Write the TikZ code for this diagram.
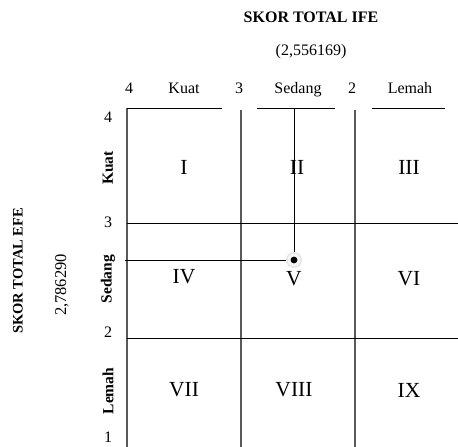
\documentclass[tikz,border=0pt]{standalone}
\usepackage{fontspec}
\setmainfont{Liberation Serif}
\begin{document}
\begin{tikzpicture}[x=1pt,y=-1pt,
  lbl/.style={font=\fontsize{16}{18}\selectfont, inner sep=0pt},
  toplbl/.style={lbl, anchor=base},
  hdr/.style={font=\fontsize{16}{18}\selectfont\bfseries, inner sep=0pt},
  vlbl/.style={font=\fontsize{15.5}{17}\selectfont\bfseries, inner sep=0pt, rotate=90},
  rom/.style={font=\fontsize{21.5}{24}\selectfont, inner sep=0pt},
  gline/.style={line width=1.1pt, draw=black!65},
  kline/.style={line width=0.9pt, draw=black}]
\useasboundingbox (0,0) rectangle (458,447);
% headers
\node[hdr] (ife) at (311,17) {SKOR TOTAL IFE};
\node[lbl] (ifev) at (311,52) {(2,556169)};
\node[font=\fontsize{14.5}{16}\selectfont\bfseries, inner sep=0pt, rotate=90] (efe) at (18,271) {SKOR TOTAL EFE};
\node[lbl, font=\fontsize{16.5}{18}\selectfont, rotate=90] (efev) at (62,285) {2,786290};
% top scale
\node[toplbl] (t4) at (129,93) {4};
\node[toplbl] (tk) at (184,93) {Kuat};
\node[toplbl] (t3) at (239,93) {3};
\node[toplbl] (ts) at (298,93) {Sedang};
\node[toplbl] (t2) at (352,93) {2};
\node[toplbl] (tl) at (410,93) {Lemah};
% left scale
\node[lbl] (l4) at (108,117) {4};
\node[lbl] (l3) at (108,222) {3};
\node[lbl] (l2) at (108,332) {2};
\node[lbl] (l1) at (108,437) {1};
\node[vlbl] (lk) at (108,168) {Kuat};
\node[vlbl] (ls) at (108,279) {Sedang};
\node[vlbl] (ll) at (108,391) {Lemah};
% grid
\draw[gline] (127,108) -- (127,447);
\draw[gline] (241,110) -- (241,447);
\draw[gline] (355,110) -- (355,447);
\draw[kline] (127,108) -- (222,108);
\draw[kline] (257,108) -- (335,108);
\draw[kline] (372,108) -- (445,108);
\draw[kline] (127,223) -- (458,223);
\draw[kline] (127,338) -- (458,338);
% indicator
\coordinate (pt) at (294,260);
\coordinate (ptop) at (294,108);
\coordinate (pleft) at (125,260);
\draw[kline, line width=0.8pt] (ptop) -- (pt);
\draw[kline, line width=0.8pt] (pleft) -- (pt);
\fill[black!10] (pt) circle (8);
\fill[black!4] (pt) circle (6.5);
\fill[black] (pt) circle (3.4);
% roman numerals
\node[rom] (r1) at (184,167) {I};
\node[rom] (r2) at (297,167) {II};
\node[rom] (r3) at (409,167) {III};
\node[rom] (r4) at (184,277) {IV};
\node[rom] (r5) at (294,279) {V};
\node[rom] (r6) at (409,279) {VI};
\node[rom] (r7) at (184,390) {VII};
\node[rom] (r8) at (294,390) {VIII};
\node[rom] (r9) at (409,390) {IX};
\end{tikzpicture}
\end{document}
